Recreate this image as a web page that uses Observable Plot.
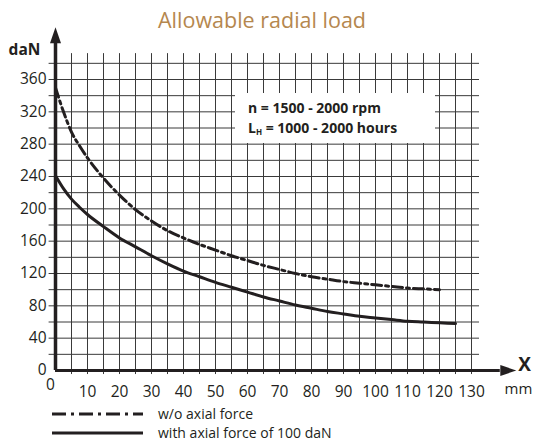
<!DOCTYPE html>
<html>
<head>
<meta charset="utf-8">
<script src="https://cdn.jsdelivr.net/npm/d3@7"></script>
<script src="https://cdn.jsdelivr.net/npm/@observablehq/plot@0.6"></script>
<style>
  html, body { margin: 0; padding: 0; background: #fff; }
  body { font-family: "Open Sans", sans-serif; color: #231f20; }
  #wrap { position: relative; width: 536px; height: 441px; overflow: hidden; }
  #chart { position: absolute; left: 0; top: 0; }
  #title { position: absolute; left: 0; top: 6px; width: 524px; text-align: center;
           font-size: 21.5px; line-height: 28px; color: #b5874e; }
  #note { position: absolute; left: 235px; top: 93px; width: 200px; height: 50px;
          background: #fff; font-weight: bold; font-size: 14px; line-height: 20px; }
  #note div { padding-left: 13px; }
  #note .l1 { margin-top: 5px; }
  #note sub { font-size: 8px; vertical-align: -2px; }
  #legend { position: absolute; left: 52px; top: 406px; font-size: 14px; }
  #legend .row { display: flex; align-items: center; height: 16px; line-height: 16px; }
  #legend .row + .row { margin-top: 3px; }
  #legend svg { width: 91px; height: 6px; margin-right: 15px; }
</style>
</head>
<body>
<div id="wrap">
  <div id="chart"></div>
  <div id="title">Allowable radial load</div>
  <div id="note">
    <div class="l1">n = 1500 - 2000 rpm</div>
    <div>L<sub>H</sub> = 1000 - 2000 hours</div>
  </div>
  <div id="legend"></div>
</div>
<script>
// ---- data ----
const xWithout = [0, 2.5, 5, 7.5, 10, 15, 20, 25, 30, 35, 40, 45, 50, 55, 60, 65, 70, 75, 80, 85, 90, 95, 100, 105, 110, 115, 120];
const yWithout = [350, 320, 295, 278, 263, 238, 217, 199, 185, 173, 164, 156, 149, 142, 136, 130, 125, 120, 116, 113, 110, 108, 106, 104, 102, 101, 100];

const xWith = [0, 2.5, 5, 7.5, 10, 15, 20, 25, 30, 35, 40, 45, 50, 55, 60, 65, 70, 75, 80, 85, 90, 95, 100, 105, 110, 115, 120, 125];
const yWith = [241, 225, 212, 202, 193, 178, 164, 153, 142, 132, 123, 116, 109, 103, 97, 91, 86, 81, 77, 73, 70, 67, 65, 63, 61, 60, 59, 58];

const xTicks = [10, 20, 30, 40, 50, 60, 70, 80, 90, 100, 110, 120, 130];
const yTicks = [0, 40, 80, 120, 160, 200, 240, 280, 320, 360];
const xGrid = [5, 10, 15, 20, 25, 30, 35, 40, 45, 50, 55, 60, 65, 70, 75, 80, 85, 90, 95, 100, 105, 110, 115, 120, 125, 130];
const yGrid = [20, 40, 60, 80, 100, 120, 140, 160, 180, 200, 220, 240, 260, 280, 300, 320, 340, 360, 380];

const seriesLabels = ["w/o axial force", "with axial force of 100 daN"];

// ---- build tables ----
const without = xWithout.map((x, i) => ({x, y: yWithout[i]}));
const withAx = xWith.map((x, i) => ({x, y: yWith[i]}));

const INK = "#231f20";
const GRID = "#3a3a3a";
const DASH_DOT = "10,4,3,4";

const arrowHead = {
  draw(ctx) {
    ctx.moveTo(0, -16);
    ctx.lineTo(5.5, 0);
    ctx.lineTo(-5.5, 0);
    ctx.closePath();
  }
};

const chart = Plot.plot({
  width: 536,
  height: 441,
  marginLeft: 55,
  marginRight: 65,
  marginTop: 79,
  marginBottom: 71,
  x: {domain: [0, 130]},
  y: {domain: [0, 360]},
  style: {fontFamily: "Open Sans, sans-serif", color: INK, background: "transparent", overflow: "visible"},
  marks: [
    Plot.ruleY(yGrid, {x1: -2, x2: 132.5, stroke: GRID, strokeWidth: 1}),
    Plot.ruleX(xGrid, {y1: -5, y2: 392, stroke: GRID, strokeWidth: 1}),
    Plot.line(without, {x: "x", y: "y", curve: "monotone-x", stroke: INK, strokeWidth: 3, strokeDasharray: DASH_DOT}),
    Plot.line(withAx, {x: "x", y: "y", curve: "monotone-x", stroke: INK, strokeWidth: 3}),
    Plot.ruleY([0], {x1: 0, x2: 139, stroke: INK, strokeWidth: 3}),
    Plot.ruleX([0], {y1: 0, y2: 405, stroke: INK, strokeWidth: 3.5}),
    Plot.dot([{x: 0, y: 405}], {x: "x", y: "y", symbol: arrowHead, fill: INK, stroke: null, r: 5}),
    Plot.dot([{x: 139, y: 0}], {x: "x", y: "y", symbol: arrowHead, fill: INK, stroke: null, r: 5, rotate: 90}),
    Plot.axisY(yTicks, {tickSize: 0, tickPadding: 9, fontSize: 15.5, label: null, fill: INK}),
    Plot.axisX(xTicks, {tickSize: 0, tickPadding: 15, fontSize: 15.5, label: null, fill: INK}),
    Plot.text([0], {x: 0, y: 0, text: () => "0", dx: -5, dy: 15, fontSize: 15.5, fill: INK}),
    Plot.text(["daN"], {frameAnchor: "top-left", textAnchor: "middle", text: d => d, dx: -31, dy: -36, fontSize: 15.5, fontWeight: "bold", fill: INK}),
    Plot.text(["X"], {frameAnchor: "bottom-right", textAnchor: "middle", text: d => d, dx: 53, dy: 0, fontSize: 19, fontWeight: "bold", fill: INK}),
    Plot.text(["mm"], {frameAnchor: "bottom-right", textAnchor: "middle", text: d => d, dx: 47, dy: 23, fontSize: 15, fill: INK})
  ]
});
document.getElementById("chart").appendChild(chart);

// ---- legend ----
const legend = document.getElementById("legend");
const dashes = ["14,5,3,5", null];
seriesLabels.forEach((label, i) => {
  const row = document.createElement("div");
  row.className = "row";
  const dash = dashes[i] ? ` stroke-dasharray="${dashes[i]}"` : "";
  row.innerHTML = `<svg viewBox="0 0 91 6"><line x1="0" x2="91" y1="3" y2="3" stroke="${INK}" stroke-width="3"${dash}/></svg><span>${label}</span>`;
  legend.appendChild(row);
});
</script>
</body>
</html>
